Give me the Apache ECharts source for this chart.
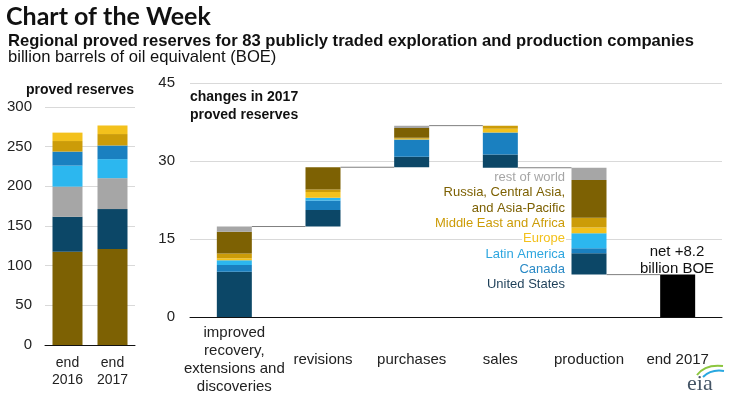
<!DOCTYPE html>
<html>
<head>
<meta charset="utf-8">
<script src="https://cdn.jsdelivr.net/npm/echarts@6/dist/echarts.min.js"></script>
<style>
  html, body { margin: 0; padding: 0; background: #fff; }
  #main { width: 732px; height: 396px; }
</style>
</head>
<body>
<div id="main"></div>
<script>
// left panel: proved reserves, billion BOE
var reserveYears = ['end\n2016', 'end\n2017'];
var russiaReserves = [117.6, 121];
var usReserves = [44, 50.3];
var rowReserves = [38, 39];
var latamReserves = [26.5, 24];
var canadaReserves = [17.7, 17.2];
var meafReserves = [13.3, 14.4];
var europeReserves = [10.6, 10.8];

// right panel: changes in 2017 (magnitudes, sign below)
var changeSteps = ['improved\nrecovery,\nextensions and\ndiscoveries', 'revisions', 'purchases', 'sales', 'production', 'end 2017'];
var changeSign = [1, 1, 1, -1, -1];
var usChange = [8.7, 3.2, 2.0, 2.55, 4.1];
var canadaChange = [1.3, 1.8, 3.35, 4.25, 0.95];
var latamChange = [0.9, 0.55, 0, 0, 2.9];
var europeChange = [0.4, 1.1, 0.15, 0.7, 1.1];
var meafChange = [0.9, 0.45, 0.15, 0.6, 1.9];
var russiaChange = [4.2, 4.3, 1.9, 0, 7.25];
var rowChange = [1.0, 0, 0.45, 0, 2.35];

var yTicksLeft = [0, 300, 50];
var yTicksRight = [0, 45, 15];

var C = {
  us: '#0c4767', canada: '#1a80c0', latam: '#2cb7ef', europe: '#f3c11c',
  meaf: '#cc9c08', russia: '#7d6103', row: '#a6a6a6'
};
var FONT = '"Liberation Sans", Arial, sans-serif';

// waterfall bookkeeping
var regionChanges = [usChange, canadaChange, latamChange, europeChange, meafChange, russiaChange, rowChange];
var running = 0, baseData = [], levels = [];
for (var i = 0; i < changeSign.length; i++) {
  var tot = 0;
  regionChanges.forEach(function (arr) { tot += arr[i]; });
  if (changeSign[i] > 0) { baseData.push(running); running += tot; }
  else { running -= tot; baseData.push(running); }
  levels.push([i, running]);
}
baseData.push(0);
var netData = changeSign.map(function () { return '-'; }).concat([running]);

function leftBar(name, data, color) {
  return { name: name, type: 'bar', xAxisIndex: 0, yAxisIndex: 0, stack: 'res', barWidth: 30,
    itemStyle: { color: color }, data: data };
}
function wfBar(name, data, color) {
  return { name: name, type: 'bar', xAxisIndex: 1, yAxisIndex: 1, stack: 'wf', barWidth: 35,
    itemStyle: { color: color }, data: data.concat(['-']) };
}

var legendItems = [
  ['rest of world', '#a6a6a6'],
  ['Russia, Central Asia,', '#7d6103'],
  ['and Asia-Pacific', '#7d6103'],
  ['Middle East and Africa', '#cc9c08'],
  ['Europe', '#f3c11c'],
  ['Latin America', '#2ea6df'],
  ['Canada', '#2a8ac6'],
  ['United States', '#1d3f58']
];
var legendY = [177, 192.5, 208, 223.5, 238.5, 254, 269.5, 284.5];

var graphics = [
  { type: 'text', left: 6, top: 4, style: { text: 'Chart of the Week', font: 'bold 25px Lato, "Open Sans", sans-serif', fill: '#111' } },
  { type: 'text', left: 8, top: 33, style: { text: 'Regional proved reserves for 83 publicly traded exploration and production companies', font: 'bold 16.6px ' + FONT, fill: '#111' } },
  { type: 'text', left: 8, top: 49, style: { text: 'billion barrels of oil equivalent (BOE)', font: '16.6px ' + FONT, fill: '#111' } },
  { type: 'text', x: 80, y: 90, style: { text: 'proved reserves', font: 'bold 14px ' + FONT, fill: '#111', align: 'center', verticalAlign: 'middle' } },
  { type: 'text', x: 190, y: 97, style: { text: 'changes in 2017', font: 'bold 14px ' + FONT, fill: '#111', verticalAlign: 'middle' } },
  { type: 'text', x: 190, y: 115, style: { text: 'proved reserves', font: 'bold 14px ' + FONT, fill: '#111', verticalAlign: 'middle' } },
  { type: 'text', x: 677, y: 252, z: 10, style: { text: 'net +8.2', font: '15px ' + FONT, fill: '#111', align: 'center', verticalAlign: 'middle' } },
  { type: 'text', x: 677, y: 268.5, z: 10, style: { text: 'billion BOE', font: '15px ' + FONT, fill: '#111', align: 'center', verticalAlign: 'middle' } },
  // eia logo
  { type: 'bezierCurve', shape: { x1: 697, y1: 375, x2: 723, y2: 366, cpx1: 705, cpy1: 364 }, style: { stroke: '#8cc63f', lineWidth: 2, fill: null } },
  { type: 'bezierCurve', shape: { x1: 703, y1: 377, x2: 724, y2: 371, cpx1: 711, cpy1: 369 }, style: { stroke: '#29a8e0', lineWidth: 2, fill: null } },
  { type: 'text', x: 687, y: 384, style: { text: 'eia', font: '22px "Liberation Serif", "DejaVu Serif", serif', fill: '#455566', verticalAlign: 'middle' } }
];
legendItems.forEach(function (it, k) {
  graphics.push({ type: 'text', x: 566, y: legendY[k], z: 10,
    style: { text: it[0], font: '13px ' + FONT, fill: it[1], align: 'right', verticalAlign: 'middle', backgroundColor: '#fff', padding: [0, 1] } });
});

var chart = echarts.init(document.getElementById('main'));
chart.setOption({
  animation: false,
  backgroundColor: '#fff',
  textStyle: { fontFamily: FONT },
  graphic: graphics,
  grid: [
    { left: 45, right: 597, top: 107, bottom: 51 },
    { left: 190, right: 10, top: 83, bottom: 77.5 }
  ],
  xAxis: [
    { type: 'category', gridIndex: 0, data: reserveYears,
      axisTick: { show: false }, axisLine: { lineStyle: { color: '#111', width: 1 } },
      axisLabel: { fontSize: 14, color: '#222', margin: 10, lineHeight: 17 } },
    { type: 'category', gridIndex: 1, data: changeSteps,
      axisTick: { show: false }, axisLine: { lineStyle: { color: '#111', width: 1 } },
      axisLabel: { fontSize: 15, color: '#222', margin: 43, lineHeight: 18, verticalAlign: 'middle', interval: 0 } }
  ],
  yAxis: [
    { type: 'value', gridIndex: 0, min: yTicksLeft[0], max: yTicksLeft[1], interval: yTicksLeft[2],
      axisLine: { show: false }, axisTick: { show: false },
      splitLine: { lineStyle: { color: '#d9d9d9' } },
      axisLabel: { fontSize: 15, color: '#222', margin: 13 } },
    { type: 'value', gridIndex: 1, min: yTicksRight[0], max: yTicksRight[1], interval: yTicksRight[2],
      axisLine: { show: false }, axisTick: { show: false },
      splitLine: { lineStyle: { color: '#d9d9d9' } },
      axisLabel: { fontSize: 15, color: '#222', margin: 15 } }
  ],
  series: [
    leftBar('Russia, Central Asia, and Asia-Pacific', russiaReserves, C.russia),
    leftBar('United States', usReserves, C.us),
    leftBar('rest of world', rowReserves, C.row),
    leftBar('Latin America', latamReserves, C.latam),
    leftBar('Canada', canadaReserves, C.canada),
    leftBar('Middle East and Africa', meafReserves, C.meaf),
    leftBar('Europe', europeReserves, C.europe),

    { name: 'base', type: 'bar', xAxisIndex: 1, yAxisIndex: 1, stack: 'wf', barWidth: 35,
      itemStyle: { color: 'transparent' }, data: baseData },
    wfBar('United States', usChange, C.us),
    wfBar('Canada', canadaChange, C.canada),
    wfBar('Latin America', latamChange, C.latam),
    wfBar('Europe', europeChange, C.europe),
    wfBar('Middle East and Africa', meafChange, C.meaf),
    wfBar('Russia, Central Asia, and Asia-Pacific', russiaChange, C.russia),
    wfBar('rest of world', rowChange, C.row),
    { name: 'net', type: 'bar', xAxisIndex: 1, yAxisIndex: 1, stack: 'wf', barWidth: 35,
      itemStyle: { color: '#000' }, data: netData },

    { name: 'connectors', type: 'custom', xAxisIndex: 1, yAxisIndex: 1, z: 3,
      data: levels, encode: { x: 0, y: 1 },
      renderItem: function (params, api) {
        var p1 = api.coord([api.value(0), api.value(1)]);
        var p2 = api.coord([api.value(0) + 1, api.value(1)]);
        return { type: 'line',
          shape: { x1: p1[0] + 17.5, y1: p1[1], x2: p2[0] - 17.5, y2: p2[1] },
          style: { stroke: '#7f7f7f', lineWidth: 1 } };
      } }
  ]
});
</script>
</body>
</html>
